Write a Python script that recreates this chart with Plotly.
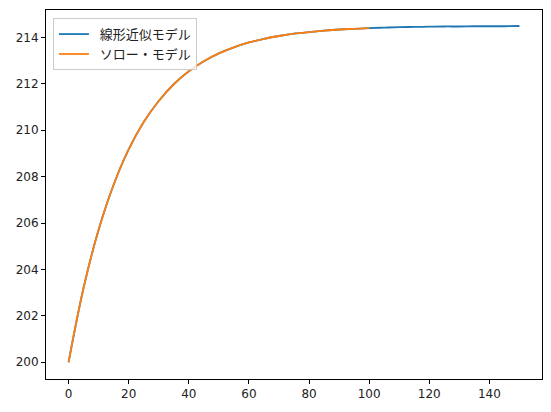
import plotly.graph_objects as go

# Data
t_linear = [0, 5, 10, 15, 20, 25, 30, 35, 40, 45, 50, 55, 60, 65, 70, 75, 80, 85, 90, 95,
            100, 105, 110, 115, 120, 125, 130, 135, 140, 145, 150]
k_linear = [200.00, 203.21, 205.71, 207.65, 209.17, 210.35, 211.26, 211.98, 212.54, 212.97,
            213.31, 213.57, 213.78, 213.94, 214.06, 214.16, 214.23, 214.29, 214.34, 214.37,
            214.40, 214.42, 214.44, 214.45, 214.46, 214.47, 214.47, 214.48, 214.48, 214.48, 214.49]
t_solow = [0, 5, 10, 15, 20, 25, 30, 35, 40, 45, 50, 55, 60, 65, 70, 75, 80, 85, 90, 95, 100]
k_solow = [200.00, 203.21, 205.71, 207.65, 209.17, 210.35, 211.26, 211.98, 212.54, 212.97,
           213.31, 213.57, 213.78, 213.94, 214.06, 214.16, 214.23, 214.29, 214.34, 214.37, 214.40]
names = ["線形近似モデル", "ソロー・モデル"]
x_ticks = [0, 20, 40, 60, 80, 100, 120, 140]
y_ticks = [200, 202, 204, 206, 208, 210, 212, 214]

FONT = "DejaVu Sans, Noto Sans CJK JP"
LEGEND_FONT = "Noto Sans CJK JP"
PAD = "\u00a0\u00a0"

fig = go.Figure()
fig.add_trace(go.Scatter(x=t_linear, y=k_linear, mode="lines", name=PAD + names[0],
                         line=dict(color="#1f77b4", width=1.8, shape="spline")))
fig.add_trace(go.Scatter(x=t_solow, y=k_solow, mode="lines", name=PAD + names[1],
                         line=dict(color="#ff7f0e", width=1.8, shape="spline")))

axis_common = dict(showgrid=False, zeroline=False, showline=True, linecolor="black",
                   linewidth=1, mirror=True, ticks="outside", ticklen=4, tickwidth=1,
                   tickcolor="black", tickfont=dict(family=FONT, size=12, color="#222"))

fig.update_layout(
    width=551, height=412,
    margin=dict(l=46, r=9, t=10, b=33),
    paper_bgcolor="white", plot_bgcolor="white",
    font=dict(family=FONT, size=12, color="#222"),
    xaxis=dict(range=[-7.5, 157.5], tickvals=x_ticks, **axis_common),
    yaxis=dict(range=[199.28, 215.18], tickvals=y_ticks, **axis_common),
    legend=dict(x=0.014, y=0.978, xanchor="left", yanchor="top",
                bgcolor="rgba(255,255,255,0.8)", bordercolor="#cccccc", borderwidth=1,
                font=dict(family=LEGEND_FONT, size=13, color="#222"), tracegroupgap=0),
    showlegend=True,
)

fig.write_html("out.html", config={"displayModeBar": False},
               post_script="document.body.style.margin='0';")
